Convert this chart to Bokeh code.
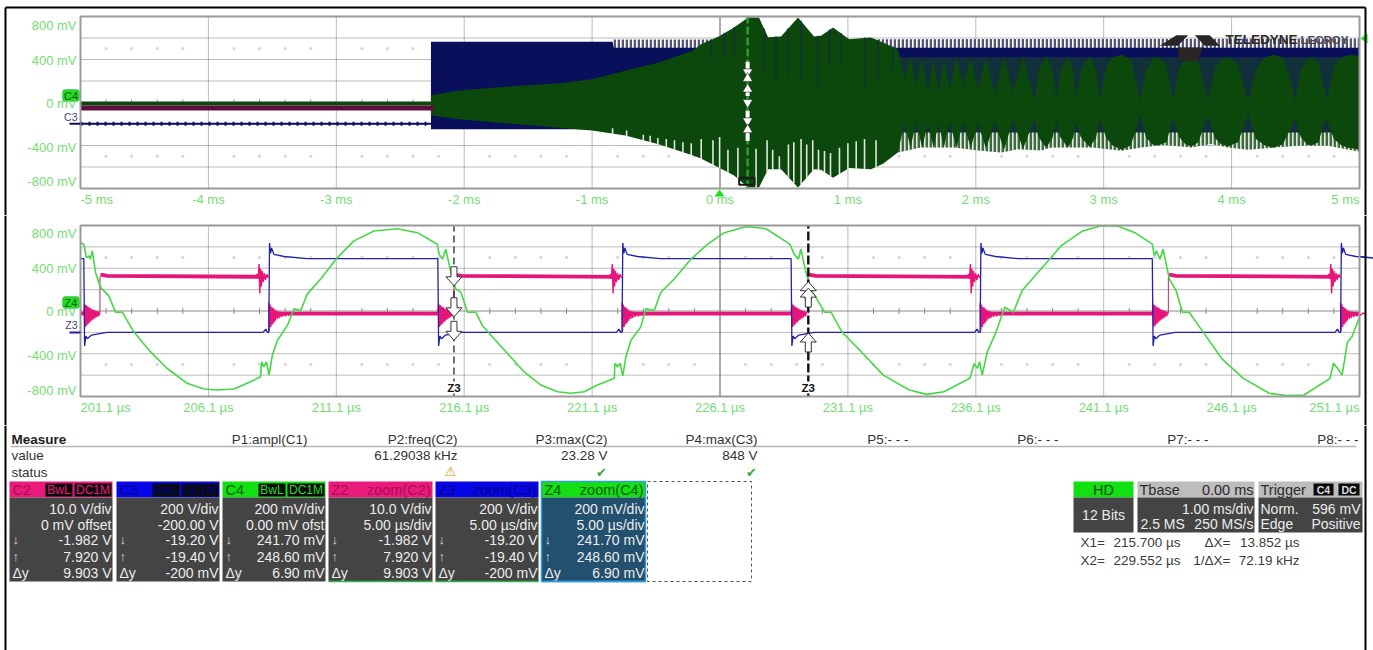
from bokeh.plotting import figure
from bokeh.layouts import column
from bokeh.models import Range1d, BoxAnnotation
from bokeh.core.properties import value
from bokeh.embed import file_html
from bokeh.resources import INLINE
import numpy as np

# ------------------------------------------------------------------ data
main_ticks_ms = [-5, -4, -3, -2, -1, 0, 1, 2, 3, 4, 5]
main_labels = ["-5 ms", "-4 ms", "-3 ms", "-2 ms", "-1 ms", "0 ms", "1 ms", "2 ms", "3 ms", "4 ms", "5 ms"]
zoom_ticks_us = [201.1, 206.1, 211.1, 216.1, 221.1, 226.1, 231.1, 236.1, 241.1, 246.1, 251.1]
zoom_labels = ["201.1 µs", "206.1 µs", "211.1 µs", "216.1 µs", "221.1 µs", "226.1 µs",
               "231.1 µs", "236.1 µs", "241.1 µs", "246.1 µs", "251.1 µs"]
volt_ticks = [800, 400, 0, -400, -800]
volt_labels = ["800 mV", "400 mV", "0 mV", "-400 mV", "-800 mV"]
volt_grid = [-600, -400, -200, 200, 400, 600]

# main view: flat pre-trigger levels (mV) and burst start (ms)
burst_start = -2.26
c4_flat, c2_flat, c3_flat = -10, -52, -198

# C3 burst band
c3_t = [-2.26, -0.84, -0.83, 5.0]
c3_top = [565, 565, 510, 510]
c3_bot = [-248, -248, -248, -248]
c3_ripple_t = [-0.84, 5.0]
c3_ripple_top = [585, 595]

# C4 solid envelope
c4_t = [-2.26, -2.04, -1.65, -1.26, -1.0, -0.74, -0.48, -0.21, -0.149, -0.01, 0.11, 0.22, 0.305, 0.376,
        0.477, 0.61, 0.735, 0.79, 0.884, 1.01, 1.18, 1.275, 1.39,
        1.443, 1.49, 1.534, 1.58, 1.626, 1.67, 1.71, 1.75, 1.795, 1.85, 1.90, 1.96, 2.017, 2.08, 2.148, 2.22,
        2.29, 2.37, 2.459, 2.49, 2.55, 2.60, 2.629, 2.66, 2.72, 2.76, 2.785, 2.82, 2.89, 2.94, 2.968,
        3.02, 3.07, 3.14, 3.21, 3.26, 3.281, 3.33, 3.38, 3.425, 3.49, 3.542, 3.59, 3.64, 3.686, 3.74, 3.79,
        3.816, 3.87, 3.92, 3.973, 4.05, 4.11, 4.13, 4.19, 4.26, 4.325, 4.40, 4.47, 4.495, 4.54, 4.59, 4.625,
        4.68, 4.72, 4.743, 4.80, 4.86, 4.913, 4.96, 5.0]
c4_top = [68, 112, 149, 180, 217, 295, 372, 484, 542, 614, 697, 790, 790, 606,
          615, 790, 615, 620, 697, 589, 605, 558, 496,
          232, 418, 170, 418, 77, 418, 93, 418, 121, 420, 157, 420, 121, 425, 77, 430,
          93, 440, 16, 300, 440, 300, 30, 300, 430, 300, 40, 300, 430, 300, 40,
          330, 420, 445, 400, 180, 16, 300, 400, 425, 350, 16, 320, 410, 430, 380, 150,
          16, 320, 410, 420, 350, 100, 16, 300, 420, 445, 420, 180, 16, 300, 400, 420,
          370, 150, 16, 340, 420, 440, 440, 430]
c4_bot = [-120, -155, -195, -235, -260, -307, -388, -493, -520, -604, -680, -790, -790, -620,
          -620, -790, -620, -625, -700, -610, -620, -570, -465,
          -190, -420, -170, -420, -190, -420, -180, -420, -180, -420, -180, -420, -190, -430, -180, -440,
          -170, -430, -150, -320, -420, -330, -170, -320, -420, -330, -180, -320, -415, -330, -150,
          -330, -400, -440, -400, -230, -110, -320, -390, -400, -370, -150, -320, -390, -410, -370, -200,
          -130, -330, -390, -410, -370, -180, -110, -340, -400, -420, -390, -220, -140, -320, -390, -400,
          -370, -200, -150, -340, -400, -420, -430, -440]

# C4 outer (striped) lower envelope once the beat starts
c4_out_t = [1.39, 1.57, 1.83, 2.02, 2.2, 2.33, 2.51, 2.59, 2.77, 2.916, 3.14, 3.29, 3.477, 3.686, 3.84,
            3.97, 4.13, 4.34, 4.52, 4.755, 4.96, 5.0]
c4_out_v = [-465, -418, -418, -446, -465, -434, -446, -418, -418, -418, -449, -418, -395, -418, -387,
            -418, -440, -418, -403, -403, -449, -455]

# white gaps in the lower edge of C4: time (ms), height reached (mV)
c4_gap_t = [-0.84, -0.73, -0.60, -0.546, -0.486, -0.42, -0.356, -0.29, -0.225, -0.147, -0.055, -0.003,
            0.062, 0.14, 0.282, 0.368, 0.412, 0.464, 0.535, 0.577, 0.634, 0.678, 0.725, 0.77, 0.817,
            0.864, 0.934, 1.0, 1.065, 1.13, 1.22]
c4_gap_v = [-240, -260, -300, -310, -330, -340, -350, -370, -380, -340, -350, -320, -440, -420, -430, -350,
            -440, -500, -390, -370, -340, -390, -350, -440, -450, -470, -420, -380, -360, -340, -350]

# dark notches in the upper edge of C4
c4_notch_t = [-0.07, 0.034, 0.112, 0.347, 0.438, 0.53, 0.634, 0.765, 0.856, 0.947, 1.13, 1.234, 1.352]
c4_notch_v = [400, 420, 430, 300, 200, 250, 200, 160, 350, 380, 120, 200, 300]

# zoom view, Z4 (µs, mV)
z4_t = [201.1, 201.23, 201.33, 201.43, 201.49, 201.56, 201.69, 201.88, 202.2, 202.47, 202.73, 203.19,
        203.84, 204.49, 205.27, 205.92, 206.45, 207.1, 207.75, 208.14, 208.18, 208.27, 208.37, 208.47,
        208.6, 208.8, 209.19, 209.45, 209.71, 209.97, 210.49, 211.14, 211.79, 212.57, 213.49, 214.27,
        215.05, 215.12, 215.25, 215.38, 215.58, 215.77, 215.97, 216.23, 216.55, 216.81, 217.27, 217.79,
        218.44, 219.1, 219.75, 220.27, 220.79, 221.31, 221.97, 221.99, 222.1, 222.2, 222.3, 222.42, 222.62,
        223.0, 223.2, 223.53, 223.79, 224.31, 224.96, 225.62, 226.27, 227.05, 227.31, 227.9, 228.83,
        229.0, 229.17, 229.26, 229.46, 229.68, 229.85, 230.19, 230.44, 230.87, 231.63, 232.48, 233.5,
        234.18, 234.85, 235.87, 236.04, 236.16, 236.25, 236.35, 236.55, 236.89, 237.23, 237.57, 237.91,
        238.76, 239.43, 240.28, 240.96, 241.64, 242.32, 243.0, 243.08, 243.16, 243.3, 243.42, 243.67,
        243.93, 244.18, 244.44, 245.03, 245.71, 246.56, 247.57, 248.25, 248.93, 249.95, 250.08, 250.25,
        250.42, 250.63, 250.8, 251.1]
z4_v = [640, 625, 500, 516, 485, 563, 361, 221, 144, -11, -11, -197,
        -383, -538, -677, -730, -739, -730, -662, -615, -476, -522, -476, -600,
        -414, -274, -135, 20, 5, 160, 299, 500, 656, 749, 770, 733,
        625, 532, 485, 578, 361, 206, 176, -11, -11, -135, -259, -398,
        -569, -693, -755, -770, -755, -693, -630, -491, -523, -491, -609, -430, -274,
        -151, 20, 5, 175, 299, 485, 625, 733, 786, 786, 770, 625,
        532, 485, 578, 361, 191, 128, -11, -11, -197, -383, -600, -739,
        -780, -755, -630, -491, -537, -476, -600, -383, -197, 35, -11, 191,
        423, 609, 749, 795, 795, 733, 625, 516, 563, 485, 578, 299,
        191, -11, -11, -212, -445, -630, -770, -790, -786, -630, -491, -537,
        -600, -290, -244, -58]

# zoom view, Z3 / Z2 edge times (µs) and levels (mV)
z3_fall = [201.23, 215.07, 228.88, 243.0]
z3_rise = [208.46, 222.27, 236.27, 250.36]
z2_rise = [201.86, 215.7, 229.55, 243.63]
z2_fall = [208.46, 222.27, 236.27, 250.36]
z3_high, z3_low = 490, -200
z2_high, z2_low = 320, -25
# shape after an edge: time since the edge (µs), level (mV)
z3_after_rise = [(0.0, -200), (0.03, 637), (0.07, 540), (0.11, 590), (0.2, 530), (0.6, 510), (1.5, 490)]
z3_after_fall = [(0.0, 490), (0.03, -327), (0.08, -235), (0.14, -260), (0.3, -225), (0.9, -200)]
z3_before_rise = [(-0.22, -200), (-0.12, -170), (-0.05, -200)]
z2_ring_fall = [(0.0, 80), (0.02, -190), (0.05, 60), (0.08, -150), (0.11, 40), (0.14, -125), (0.17, 30), (0.2, -110),
                (0.23, 15), (0.26, -90), (0.3, 5), (0.34, -75), (0.38, 0), (0.42, -65), (0.47, -8), (0.52, -55),
                (0.58, -12), (0.64, -48), (0.7, -15), (0.78, -40), (0.88, -18), (1.0, -33)]
z2_ring_before = [(-0.62, -25), (-0.59, 70), (-0.56, -150), (-0.53, 55), (-0.5, -135), (-0.47, 45), (-0.44, -120),
                  (-0.41, 35), (-0.38, -105), (-0.35, 25), (-0.32, -90), (-0.29, 15), (-0.26, -80), (-0.23, 10),
                  (-0.2, -70), (-0.17, 5), (-0.14, -60), (-0.1, 0), (-0.06, -50), (-0.02, -5)]
z2_ring_high = [(-0.5, 320), (-0.46, 345), (-0.42, 300), (-0.38, 440), (-0.35, 165), (-0.32, 395), (-0.29, 230),
                (-0.26, 375), (-0.22, 270), (-0.18, 355), (-0.13, 290), (-0.07, 345), (-0.02, 310)]

# cursors (µs)
zoom_cursors = [215.7, 229.552]
main_cursor_ms = 0.216
main_cursor_bars = [(378, 264), (124, 60), (-77, -186), (-254, -357)]
main_cursor_down = [285, 0, -170]
main_cursor_up = [223, 124, -254]
zoom_arrows_down = [320, 30, -190]
zoom_arrows_up = [190, 130, -290]

# readout panels
meas_heads = ["P1:ampl(C1)", "P2:freq(C2)", "P3:max(C2)", "P4:max(C3)", "P5:- - -", "P6:- - -", "P7:- - -", "P8:- - -"]
meas_values = ["", "61.29038 kHz", "23.28 V", "848 V", "", "", "", ""]
meas_status = ["", "warn", "ok", "ok", "", "", "", ""]
tile_names = ["C2", "C3", "C4", "Z2", "Z3", "Z4"]
tile_tags = ["", "", "", "zoom(C2)", "zoom(C3)", "zoom(C4)"]
tile_lines = [["10.0 V/div", "0 mV offset", "-1.982 V", "7.920 V", "9.903 V"],
              ["200 V/div", "-200.00 V", "-19.20 V", "-19.40 V", "-200 mV"],
              ["200 mV/div", "0.00 mV ofst", "241.70 mV", "248.60 mV", "6.90 mV"],
              ["10.0 V/div", "5.00 µs/div", "-1.982 V", "7.920 V", "9.903 V"],
              ["200 V/div", "5.00 µs/div", "-19.20 V", "-19.40 V", "-200 mV"],
              ["200 mV/div", "5.00 µs/div", "241.70 mV", "248.60 mV", "6.90 mV"]]

# ------------------------------------------------------------------ style
FONT = "Liberation Sans"
TICK_GREEN = "#74dc74"
GRID = "#777777"
FRAME = "#9a9a9a"
C4_DARK = "#0c470c"
C3_DARK = "#0a0f5c"
TEAL = "#12303c"
PANEL = "#444444"
L, R, W = 80, 1359, 1373
BORDER_L, BORDER_R, BORDER_T, BORDER_B = 5, 1365, 7, 650


class Scope:
    """One scope graticule; its canvas spans page rows y0..y1, its frame page rows ft..fb."""

    def __init__(self, y0, y1, ft, fb, xr):
        self.xr, self.ft, self.fb = xr, ft, fb
        self.kx = (xr[1] - xr[0]) / (R - L)
        self.ky = 1600 / (fb - ft)
        self.p = figure(width=W, height=y1 - y0,
                        x_range=Range1d(xr[0] - L * self.kx, xr[1] + (W - R) * self.kx),
                        y_range=Range1d(-800 - (y1 - fb) * self.ky, 800 + (ft - y0) * self.ky),
                        output_backend="svg", toolbar_location=None, min_border=0)
        self.p.axis.visible = False
        self.p.grid.visible = False
        self.p.outline_line_color = None

    def X(self, px):
        return self.xr[0] + (px - L) * self.kx

    def Y(self, py):
        return -800 + (self.fb - py) * self.ky

    def graticule(self, ticks):
        p, xr = self.p, self.xr
        p.segment(ticks[1:-1], [-800] * 9, ticks[1:-1], [800] * 9, line_color=GRID, line_width=1, line_dash="1 1")
        p.segment([xr[0]] * 6, volt_grid, [xr[1]] * 6, volt_grid, line_color=GRID, line_width=1, line_dash="1 1")
        p.segment([ticks[5]], [-800], [ticks[5]], [800], line_color="#777777", line_width=1)
        p.segment([xr[0]], [0], [xr[1]], [0], line_color="#8c8c8c", line_width=1.2)
        dx = (xr[1] - xr[0]) / 50
        xs = [xr[0] + dx * i for i in range(1, 50) if i % 5]
        p.segment(xs, [-28] * len(xs), xs, [28] * len(xs), line_color="#8c8c8c", line_width=1)
        for yy in (500, -500):
            p.scatter(xs, [yy] * len(xs), size=2, marker="square", color="#d8d8d8")

    def text(self, x, y, s, color, size, align="left", font=FONT, style="normal"):
        self.p.text([x], [y], text=[s], text_color=color, text_font=value(font), text_font_size=f"{size}px",
                    text_align=align, text_baseline="middle", text_font_style=style)

    def labels(self, ticks, labels, ypix_val, xlab_py):
        for v, s, py in zip(volt_ticks, volt_labels, ypix_val):
            self.text(self.X(76), self.Y(py), s, TICK_GREEN, 13, "right")
        for t, s in zip(ticks[1:-1], labels[1:-1]):
            self.text(t, self.Y(xlab_py), s, TICK_GREEN, 13, "center")
        self.text(ticks[0], self.Y(xlab_py), labels[0], TICK_GREEN, 13, "left")
        self.text(ticks[-1], self.Y(xlab_py), labels[-1], TICK_GREEN, 13, "right")

    def frame(self):
        self.p.quad(left=[self.xr[0]], right=[self.xr[1]], top=[800], bottom=[-800], fill_alpha=0,
                    line_color=FRAME, line_width=2)

    def badge(self, s, cy):
        self.p.add_layout(BoxAnnotation(left=self.X(62), right=self.X(79), top=self.Y(cy - 6), bottom=self.Y(cy + 6),
                                        fill_color="#22dd22", fill_alpha=1, line_color="#118811", line_width=1,
                                        border_radius=3, level="underlay"))
        self.text(self.X(70.5), self.Y(cy), s, "#0c5a0c", 11, "center")

    def border(self, py_top, py_bot, top_line=False):
        xs = [self.X(BORDER_L), self.X(BORDER_R)]
        self.p.segment(xs, [self.Y(py_top)] * 2, xs, [self.Y(py_bot)] * 2, line_color="black", line_width=2)
        if top_line:
            self.p.segment([xs[0]], [self.Y(BORDER_T)], [xs[1]], [self.Y(BORDER_T)], line_color="black", line_width=2)

    def poly(self, pts, color, line=None):
        self.p.patch([self.X(a) for a, _ in pts], [self.Y(b) for _, b in pts], fill_color=color, line_color=line, line_width=1)


# ------------------------------------------------------------------ main acquisition
s1 = Scope(0, 215, 16, 188, (-5.0, 5.0))
p1 = s1.p
s1.graticule(main_ticks_ms)
# striped ripple above the navy band
p1.varea(c3_ripple_t, [505, 505], c3_ripple_top, fill_color="white", fill_alpha=1,
         hatch_pattern="vertical_line", hatch_color="#55557a", hatch_weight=2.6, hatch_scale=4)
p1.varea(c3_t, c3_bot, c3_top, fill_color=C3_DARK)
# grey-green stripes below
p1.varea(c4_out_t, [-270] * len(c4_out_t), c4_out_v, fill_color="#dfe8df", fill_alpha=1,
         hatch_pattern="vertical_line", hatch_color="#3f6a3f", hatch_weight=2.8, hatch_scale=4)
# dark wedges of the beat
p1.varea([1.39, 5.0], [-279, -279], [420, 420], fill_color=TEAL)
p1.varea(c4_t, c4_bot, c4_top, fill_color=C4_DARK)
# flat levels
p1.line([-5, burst_start], [c3_flat, c3_flat], line_color=C3_DARK, line_width=2)
p1.line([-5, burst_start], [c3_flat, c3_flat], line_color=C3_DARK, line_width=4, line_dash="2 6")
p1.line([-5, burst_start], [c4_flat, c4_flat], line_color=C4_DARK, line_width=4)
p1.line([-5, burst_start + 0.02], [c2_flat, c2_flat], line_color="#5c0f3e", line_width=5)
# edge texture
gap_base = np.interp(c4_gap_t, c4_t, c4_bot) - 6
p1.segment(c4_gap_t, gap_base, c4_gap_t, c4_gap_v, line_color="#dfe8df", line_width=1.6)
notch_top = np.interp(c4_notch_t, c4_t, c4_top) + 4
p1.segment(c4_notch_t, notch_top, c4_notch_t, c4_notch_v, line_color=TEAL, line_width=1.4)
# logo
logo_xs = [[3.438, 3.568, 3.66, 3.58], [3.712, 3.829, 3.908, 3.79], [3.58, 3.776, 3.736, 3.594]]
logo_ys = [[527, 626, 626, 527], [626, 626, 527, 527], [512, 512, 387, 387]]
p1.patches(logo_xs, logo_ys, fill_color="#2b2626", line_color=None)
s1.text(s1.X(1225), s1.Y(39), "TELEDYNE", "#2a2a2a", 13.5, style="bold")
s1.text(s1.X(1300), s1.Y(39), "LECROY", "#4a4a4a", 11.5, style="bold")
# zoom cursor inside the main view
p1.line([main_cursor_ms] * 2, [-800, 800], line_color="#2f9a2f", line_width=2.5, line_dash="8 3")
bar_lo = [b[1] for b in main_cursor_bars]
bar_hi = [b[0] for b in main_cursor_bars]
p1.segment([main_cursor_ms] * 4, bar_lo, [main_cursor_ms] * 4, bar_hi, line_color="white", line_width=4)
p1.scatter([main_cursor_ms] * 3, main_cursor_down, marker="inverted_triangle", size=10, fill_color="white", line_color="#222222", line_width=0.6)
p1.scatter([main_cursor_ms] * 3, main_cursor_up, marker="triangle", size=10, fill_color="white", line_color="#222222", line_width=0.6)
p1.quad(left=[0.15], right=[0.27], top=[-700], bottom=[-765], fill_alpha=0, line_color="#1a1a1a", line_width=2)
s1.frame()
s1.labels(main_ticks_ms, main_labels, [25, 60, 103, 147, 181], 199)
# channel markers
s1.poly([(1360, 38), (1367, 33), (1367, 43)], "#22dd22")
s1.poly([(719, 189), (714, 196), (724, 196)], "#22dd22")
p1.segment([s1.X(69)], [c3_flat], [s1.X(80)], [c3_flat], line_color=C3_DARK, line_width=2)
s1.text(s1.X(77), s1.Y(116), "C3", "#44447a", 10.5, "right")
s1.badge("C4", 95)
s1.border(BORDER_T, 215, top_line=True)

# ------------------------------------------------------------------ zoom view
s2 = Scope(215, 425, 225, 396, (201.1, 251.1))
p2 = s2.p
s2.graticule(zoom_ticks_us)

M = "#e6157a"
seg_x, seg_y = [], []
seg_x.append([201.1, z2_rise[0]]); seg_y.append([z2_low, z2_low])
for i in range(4):
    seg_x.append([z2_rise[i] + 0.02, z2_rise[i] + 0.3, z2_fall[i] - 0.1]); seg_y.append([z2_high + 20, z2_high + 8, z2_high])
    stop = z3_fall[i + 1] if i < 3 else 251.1
    seg_x.append([z2_fall[i] + 0.2, stop]); seg_y.append([z2_low, z2_low])
p2.multi_line(seg_x, seg_y, line_color=M, line_width=3.8)
ring_x, ring_y = [], []
for t in z2_fall:
    ring_x.append([t + dt for dt, _ in z2_ring_fall]); ring_y.append([v for _, v in z2_ring_fall])
    ring_x.append([t + dt for dt, _ in z2_ring_high]); ring_y.append([v for _, v in z2_ring_high])
for t in z3_fall:
    ring_x.append([t + 0.62 + dt for dt, _ in z2_ring_before]); ring_y.append([v for _, v in z2_ring_before])
p2.multi_line(ring_x, ring_y, line_color=M, line_width=1.4)
p2.segment(z2_rise, [z2_low] * 4, z2_rise, [z2_high] * 4, line_color="#c04a7c", line_width=1.2)

bx, by = [201.1], [z3_high]
for t, kind in sorted([(t, "f") for t in z3_fall] + [(t, "r") for t in z3_rise]):
    if kind == "f":
        pts = z3_after_fall
    else:
        pts = z3_before_rise + z3_after_rise
    for dt, v in pts:
        bx.append(t + dt); by.append(v)
bx.append(251.1); by.append(z3_high + 20)
p2.line(bx, by, line_color="#2222a8", line_width=1.3)
p2.line(z4_t, z4_v, line_color="#45d845", line_width=1.6)
# cursors
p2.line([zoom_cursors[0]] * 2, [-800, 800], line_color="#111111", line_width=1.2, line_dash="7 4")
p2.line([zoom_cursors[1]] * 2, [-800, 800], line_color="#111111", line_width=2.4, line_dash="9 3")


def block_arrow(s, t, v, direction):
    """Hollow arrow drawn around a channel level, sizes in pixels."""
    cx, cy = (t - s.xr[0]) / s.kx + L, s.fb - (v + 800) / s.ky
    d = direction
    pts = [(-3, -10 * d), (3, -10 * d), (3, 0), (8, 0), (0, 9 * d), (-8, 0), (-3, 0)]
    s.poly([(cx + a, cy + b) for a, b in pts], "white", "#333333")


for v in zoom_arrows_down:
    block_arrow(s2, zoom_cursors[0], v, 1)
for v in zoom_arrows_up:
    block_arrow(s2, zoom_cursors[1], v, -1)
for tx in zoom_cursors:
    p2.quad(left=[tx - 0.3], right=[tx + 0.3], top=[s2.Y(381)], bottom=[s2.Y(393)], fill_color="white", line_color=None)
    s2.text(tx, s2.Y(387), "Z3", "#111111", 11.5, "center", style="bold")
s2.frame()
s2.labels(zoom_ticks_us, zoom_labels, [233, 268, 311, 355, 390], 407)
p2.segment([s2.X(69)], [z3_low], [s2.X(80)], [z3_low], line_color="#2222a8", line_width=2)
s2.text(s2.X(77), s2.Y(324), "Z3", "#44447a", 10.5, "right")
s2.badge("Z4", 302)
s2.border(215, 425)

# ------------------------------------------------------------------ readout
p3 = figure(width=W, height=225, x_range=Range1d(0, 1373), y_range=Range1d(650, 425), output_backend="svg",
            toolbar_location=None, min_border=0)
p3.axis.visible = False
p3.grid.visible = False
p3.outline_line_color = None


def txt(x, y, s, color="#222222", size=13, align="left", font=FONT, style="normal"):
    p3.text([x], [y], text=[s], text_color=color, text_font_size=f"{size}px", text_align=align, text_baseline="middle",
            text_font=value(font), text_font_style=style)


def box(l, r, t, b, color):
    p3.quad(left=[l], right=[r], top=[t], bottom=[b], fill_color=color, line_color=None)


p3.segment([10], [446], [1356], [446], line_color="#b5b5b5", line_width=1.4)
txt(11, 439, "Measure", style="bold", size=13.5, color="#222222")
txt(11, 455, "value", color="#333333", size=13.5)
txt(11, 472, "status", color="#333333", size=13.5)
meas_right = [307, 457, 607, 757, 908, 1058, 1208, 1358]
for r, h, v, s in zip(meas_right, meas_heads, meas_values, meas_status):
    txt(r, 439, h, align="right", color="#333333", size=13.5)
    if v:
        txt(r, 455, v, align="right", color="#333333", size=13.5)
    if s == "warn":
        txt(r - 7, 471, "\u26a0", align="center", color="#c9a400", font="DejaVu Sans", size=13)
    if s == "ok":
        txt(r - 6, 472, "\u2714", align="center", color="#38a838", font="DejaVu Sans", size=13)

tile_l = [9, 116, 222, 328, 435, 541]
tile_r = [112, 219, 325, 432, 538, 645]
head_col = ["#ea1a7c", "#0606e6", "#12e012", "#ea1a7c", "#0606e6", "#12e012"]
head_txt = ["#a80f55", "#00008c", "#0a5a0a", "#a80f55", "#00008c", "#0a5a0a"]
row_y = [508, 524, 539, 556, 572]
for i in range(6):
    l, r = tile_l[i], tile_r[i]
    body = "#24506f" if i == 5 else PANEL
    box(l, r, 481, 497, head_col[i])
    box(l, r, 497, 581, body)
    txt(l + 3, 489.5, tile_names[i], color=head_txt[i], size=14.5)
    if tile_tags[i]:
        txt(r - 2, 489.5, tile_tags[i], color=head_txt[i], size=14.5, align="right")
    else:
        box(r - 67, r - 40, 483, 496, "#0a0a0a")
        box(r - 38, r - 1, 483, 496, "#0a0a0a")
        tag = "#22dd22" if i == 2 else head_col[i] if i == 0 else "#00008c"
        txt(r - 53.5, 489.5, "BwL", color=tag, size=12, align="center")
        txt(r - 19.5, 489.5, "DC1M", color=tag, size=12, align="center")
    for y, s in zip(row_y, tile_lines[i]):
        txt(r - 1, y, s, color="#ececec", size=14, align="right")
    txt(l + 3, 539, "\u2193", color="#dddddd", size=13)
    txt(l + 3, 556, "\u2191", color="#dddddd", size=13)
    txt(l + 3, 572, "\u0394y", color="#ececec", size=14)
    if i >= 3:
        p3.segment([l], [581], [r], [581], line_color="#2fb54a" if i < 5 else "#2f8fd0", line_width=1.5)
p3.quad(left=[541], right=[645], top=[481], bottom=[581], fill_alpha=0, line_color="#2f9fe0", line_width=1.5)
p3.quad(left=[647], right=[751], top=[481], bottom=[581], fill_alpha=0, line_color="#555555", line_width=1, line_dash="3 3")

# acquisition tiles
box(1073, 1133, 481, 497, "#12e012")
box(1073, 1133, 497, 532, PANEL)
txt(1103, 489.5, "HD", color="#0a4a0a", size=14.5, align="center")
txt(1103, 514, "12 Bits", color="#ececec", size=14, align="center")
box(1137, 1254, 481, 497, "#bdbdbd")
box(1137, 1254, 497, 532, PANEL)
txt(1139, 489.5, "Tbase", color="#2a2a2a", size=14.5)
txt(1253, 489.5, "0.00 ms", color="#2a2a2a", size=14.5, align="right")
txt(1253, 508, "1.00 ms/div", color="#ececec", size=14, align="right")
txt(1140, 523.5, "2.5 MS", color="#ececec", size=14)
txt(1253, 523.5, "250 MS/s", color="#ececec", size=14, align="right")
box(1258, 1362, 481, 497, "#bdbdbd")
box(1258, 1362, 497, 532, PANEL)
txt(1260, 489.5, "Trigger", color="#2a2a2a", size=14.5)
box(1313, 1333, 483, 495, "#0a0a0a")
box(1338, 1359, 483, 495, "#0a0a0a")
txt(1323, 489, "C4", color="#dddddd", size=10.5, align="center", style="bold")
txt(1348.5, 489, "DC", color="#dddddd", size=10.5, align="center", style="bold")
txt(1260, 508, "Norm.", color="#ececec", size=14)
txt(1360, 508, "596 mV", color="#ececec", size=14, align="right")
txt(1260, 523.5, "Edge", color="#ececec", size=14)
txt(1360, 523.5, "Positive", color="#ececec", size=14, align="right")
for y, a, b, c, d in [(542, "X1=", "215.700 µs", "\u0394X=", "13.852 µs"), (560, "X2=", "229.552 µs", "1/\u0394X=", "72.19 kHz")]:
    txt(1080, y, a, color="#3c3c3c", size=13.5)
    txt(1180, y, b, color="#3c3c3c", align="right", size=13.5)
    txt(1230, y, c, color="#3c3c3c", align="right", size=13.5)
    txt(1299, y, d, color="#3c3c3c", align="right", size=13.5)
# side edges of the screenshot run to the bottom of the page
p3.segment([BORDER_L, BORDER_R], [425, 425], [BORDER_L, BORDER_R], [BORDER_B, BORDER_B], line_color="black", line_width=2)

root = column(p1, p2, p3, spacing=0)
open("out.html", "w").write(file_html(root, INLINE))
